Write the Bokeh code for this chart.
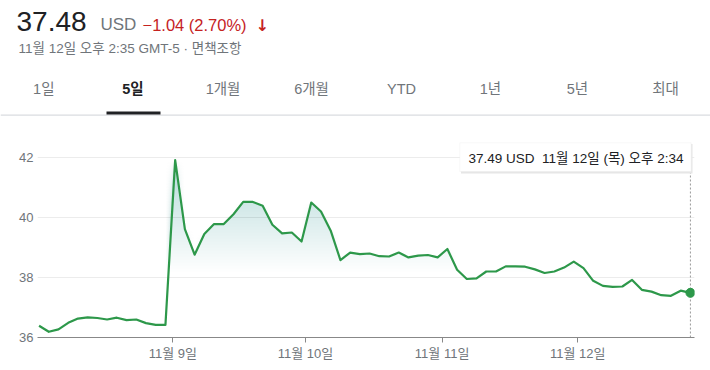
import numpy as np
from bokeh.plotting import figure
from bokeh.layouts import column
from bokeh.models import Label, FixedTicker, BoxAnnotation
from bokeh.core.properties import value
from bokeh.embed import file_html
from bokeh.resources import INLINE

# ---- data (30-minute prices, Nov 6 .. Nov 12) ----
prices = [36.39, 36.19, 36.27, 36.49, 36.63, 36.67, 36.65, 36.60, 36.66, 36.58, 36.60, 36.48, 36.42, 36.42,
          41.91, 39.61, 38.76, 39.45, 39.78, 39.78, 40.11, 40.52, 40.52, 40.39, 39.76, 39.47, 39.50, 39.20,
          40.50, 40.20, 39.56, 38.58, 38.83, 38.78, 38.80, 38.71, 38.70, 38.83, 38.67, 38.73, 38.75, 38.67,
          38.95, 38.26, 37.95, 37.97, 38.20, 38.20, 38.37, 38.37, 38.36, 38.27, 38.15, 38.20, 38.33, 38.53,
          38.31, 37.89, 37.72, 37.69, 37.70, 37.92, 37.59, 37.53, 37.41, 37.39, 37.56, 37.49]
day_tick_pos = [13.76, 27.4, 41.46, 55.4]
day_tick_labels = ["11월 9일", "11월 10일", "11월 11일", "11월 12일"]
y_ticks = [36, 38, 40, 42]
tab_labels = ["1일", "5일", "1개월", "6개월", "YTD", "1년", "5년", "최대"]
selected_tab = "5일"
last_price = "37.48"
currency = "USD"
change_text = "\u22121.04 (2.70%)"
timestamp_text = "11월 12일 오후 2:35 GMT-5 · 면책조항"
tooltip_text = "37.49 USD\u00a0 11월 12일 (목) 오후 2:34"

FONT = "'Liberation Sans', 'Noto Sans CJK KR', sans-serif"
GREEN = "#2d984a"
GREY = "#70757a"
DARK = "#202124"
RED = "#c5221f"

# ================= header (tabs, price) =================
HW, HH = 710, 120
h = figure(width=HW, height=HH, output_backend="svg", toolbar_location=None,
           x_range=(0, HW), y_range=(HH, 0), x_axis_location=None, y_axis_location=None,
           min_border=0, min_border_left=0, min_border_right=0, min_border_top=0, min_border_bottom=0,
           frame_align=False)
h.outline_line_color = None
h.grid.visible = False
h.background_fill_color = "white"
h.border_fill_color = "white"

def htext(text, xp, yp, size, color, align="left", style="normal", font=FONT):
    h.text(x=[xp], y=[yp], text=[text], text_font=value(font), text_font_size=value(size),
           text_color=color, text_align=align, text_baseline="middle", text_font_style=style)

htext(last_price, 16, 21.2, "28px", DARK)
htext(currency, 100, 24.2, "17px", GREY)
htext(change_text, 142, 24.2, "16.5px", RED)
htext("\u2193", 255, 25, "16px", RED, style="bold", font="DejaVu Sans")
htext(timestamp_text, 18, 47.5, "13.5px", GREY)

tab_centers = [43.3, 132.5, 222.5, 311, 401, 490, 577, 665]
for t, cx in zip(tab_labels, tab_centers):
    sel = (t == selected_tab)
    htext(t, cx, 88.3, "14.5px", DARK if sel else GREY, align="center", style="bold" if sel else "normal")

h.quad(left=[0], right=[HW], top=[114], bottom=[115.2], fill_color="#dadce0", line_color=None)
h.quad(left=[106], right=[160], top=[111], bottom=[114], fill_color=DARK, line_color=None)

# ================= chart =================
x = np.arange(len(prices))
y = np.array(prices)

CW, CH = 710, 250
FL, FR, FT, FB = 37, 16, 20, 33          # frame: page x 37..694, page y 140..337
X0, X1 = -0.16, 67.42
Y0 = 36.0
PXU = 30.0                                 # px per unit
frame_h = CH - FT - FB
Y1 = Y0 + frame_h / PXU
p = figure(width=CW, height=CH, output_backend="svg", toolbar_location=None,
           x_range=(X0, X1), y_range=(Y0, Y1), frame_align=False,
           min_border_left=FL, min_border_right=FR, min_border_top=FT, min_border_bottom=FB)
p.outline_line_color = None
p.background_fill_color = "white"
p.border_fill_color = "white"

# page pixel -> data (for overlay positioning)
frame_w = CW - FL - FR
def dx(px):
    return X0 + (px - FL) * (X1 - X0) / frame_w
def dy(py):
    return Y0 + (HH + CH - FB - py) / PXU

# gradient fill under line: stacked translucent layers
for lo in np.arange(38.2, 42.0, 0.1):
    p.varea(x=x, y1=np.full_like(y, lo), y2=np.maximum(y, lo), fill_color=GREEN, fill_alpha=0.0075)

p.line(x, y, line_color=GREEN, line_width=2.2, line_join="round")

# axes
p.xaxis.ticker = FixedTicker(ticks=day_tick_pos)
p.xaxis.major_label_overrides = {t: l for t, l in zip(day_tick_pos, day_tick_labels)}
p.xaxis.axis_line_color = "#888888"
p.xaxis.major_tick_line_color = "#888888"
p.xaxis.major_tick_out = 5
p.xaxis.major_tick_in = 0
p.xaxis.minor_tick_line_color = None
p.xaxis.minor_tick_out = 0
p.xaxis.major_label_text_font = FONT
p.xaxis.major_label_text_font_size = "13px"
p.xaxis.major_label_text_color = GREY
p.xaxis.major_label_standoff = 3

p.yaxis.ticker = FixedTicker(ticks=y_ticks)
p.yaxis.axis_line_color = None
p.yaxis.major_tick_line_color = None
p.yaxis.minor_tick_line_color = None
p.yaxis.major_tick_out = 0
p.yaxis.major_tick_in = 0
p.yaxis.minor_tick_out = 0
p.yaxis.major_label_text_font = FONT
p.yaxis.major_label_text_font_size = "13px"
p.yaxis.major_label_text_color = GREY
p.yaxis.major_label_standoff = 4

p.xgrid.grid_line_color = None
p.ygrid.grid_line_color = "#ececec"

# crosshair + tooltip
p.segment(x0=[x[-1]], y0=[Y0], x1=[x[-1]], y1=[dy(171)], line_color="#999999",
          line_dash="2 2", line_width=1)
p.add_layout(BoxAnnotation(left=dx(460.5), right=dx(692), top=dy(143.5), bottom=dy(173),
                           fill_color="#e6e6e6", fill_alpha=1, line_color=None))
p.add_layout(BoxAnnotation(left=dx(459.3), right=dx(690.7), top=dy(142.3), bottom=dy(171),
                           fill_color="white", fill_alpha=1, line_color="#e8e8e8", line_width=1))
p.add_layout(Label(x=dx(468), y=dy(157.5), text=tooltip_text, text_font=FONT, text_font_size="13.5px",
                   text_color=DARK, text_baseline="middle"))

p.scatter([x[-1]], [y[-1]], size=9, fill_color=GREEN, line_color=GREEN)

layout = column(h, p, spacing=0)
open("out.html", "w").write(file_html(layout, INLINE))
